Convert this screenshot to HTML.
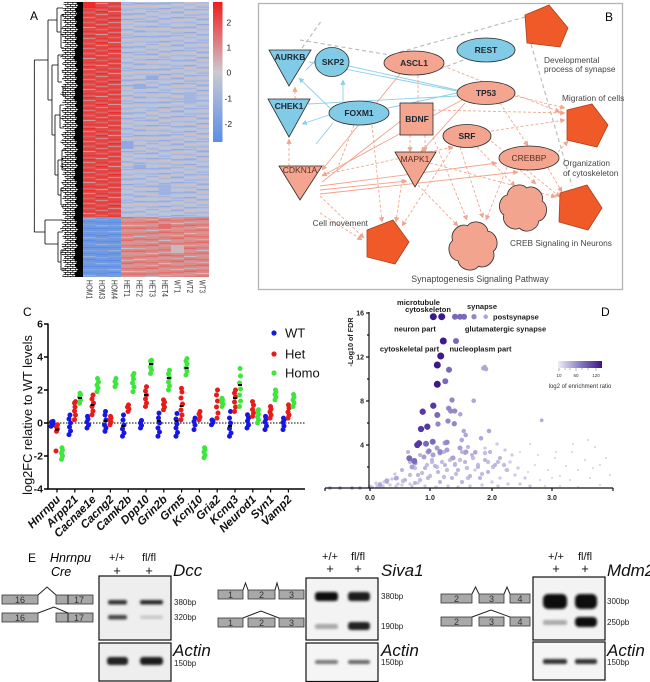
<!DOCTYPE html>
<html><head><meta charset="utf-8">
<style>
html,body{margin:0;padding:0;background:#fff;}
svg{display:block;font-family:"Liberation Sans",Arial,sans-serif;}
</style></head>
<body>
<svg width="650" height="682" viewBox="0 0 650 682" xmlns="http://www.w3.org/2000/svg">
<defs>
 <linearGradient id="cb" x1="0" y1="0" x2="0" y2="1">
  <stop offset="0" stop-color="#f21c1c"/>
  <stop offset="0.5" stop-color="#cbc9cf"/>
  <stop offset="1" stop-color="#5a8fe6"/>
 </linearGradient>
 <linearGradient id="pg" x1="0" y1="0" x2="1" y2="0">
  <stop offset="0" stop-color="#efedf7"/>
  <stop offset="0.5" stop-color="#8b7cc4"/>
  <stop offset="1" stop-color="#3c1484"/>
 </linearGradient>
 <marker id="ms" viewBox="0 0 10 10" refX="9" refY="5" markerWidth="6" markerHeight="6" orient="auto"><path d="M0,0L10,5L0,10z" fill="#f0a68e"/></marker>
 <marker id="mb" viewBox="0 0 10 10" refX="9" refY="5" markerWidth="6" markerHeight="6" orient="auto"><path d="M0,0L10,5L0,10z" fill="#8ccfe6"/></marker>
 <filter id="bl" x="-50%" y="-150%" width="200%" height="400%"><feGaussianBlur stdDeviation="1.2"/></filter>
 <pattern id="dn" patternUnits="userSpaceOnUse" width="5" height="4">
  <rect width="5" height="0.7" fill="#000"/><rect y="2" width="5" height="0.7" fill="#000"/>
  <rect x="0" width="0.7" height="2.7" fill="#000"/><rect x="2.5" y="2" width="0.7" height="2.7" fill="#000"/>
 </pattern>
 <pattern id="pR" patternUnits="userSpaceOnUse" width="13" height="31">
  <rect width="13" height="31" fill="#e04e4e"/>
  <rect y="0" width="13" height="1.3" fill="#ea3636"/>
  <rect y="2.5" width="13" height="1" fill="#d47272"/>
  <rect y="4" width="13" height="1.5" fill="#ee2e2e"/>
  <rect y="7" width="13" height="1" fill="#c98c8c"/>
  <rect y="9" width="13" height="2" fill="#e64242"/>
  <rect y="12" width="13" height="1" fill="#d86464"/>
  <rect y="14.5" width="13" height="1.2" fill="#f03030"/>
  <rect y="17" width="13" height="1" fill="#cc8080"/>
  <rect y="19" width="13" height="1.5" fill="#e83a3a"/>
  <rect y="22" width="13" height="1" fill="#d46c6c"/>
  <rect y="24.5" width="13" height="1.3" fill="#ee3434"/>
  <rect y="27" width="13" height="1" fill="#c89a9a"/>
  <rect y="29" width="13" height="1.2" fill="#e24646"/>
 </pattern>
 <pattern id="pG" patternUnits="userSpaceOnUse" width="13" height="33">
  <rect width="13" height="33" fill="#b6c1db"/>
  <rect y="0" width="13" height="1.2" fill="#9fb3e2"/>
  <rect y="2" width="13" height="1.3" fill="#cbc2ca"/>
  <rect y="5" width="13" height="1.5" fill="#a5b7e1"/>
  <rect y="7.5" width="13" height="1" fill="#d3bfc3"/>
  <rect y="9.5" width="13" height="1.8" fill="#98aee3"/>
  <rect y="12.5" width="13" height="1" fill="#c6c6d0"/>
  <rect y="15" width="13" height="1.3" fill="#93aae0"/>
  <rect y="17.5" width="13" height="1.3" fill="#d5bbbd"/>
  <rect y="20" width="13" height="1.2" fill="#a9bae0"/>
  <rect y="22.5" width="13" height="1" fill="#c5c7d3"/>
  <rect y="25" width="13" height="1.5" fill="#9ab0e3"/>
  <rect y="28" width="13" height="1" fill="#cfc0c6"/>
  <rect y="30.5" width="13" height="1.4" fill="#a3b6e1"/>
 </pattern>
 <pattern id="pB" patternUnits="userSpaceOnUse" width="13" height="19">
  <rect width="13" height="19" fill="#6e99e2"/>
  <rect y="0" width="13" height="1" fill="#5c8de6"/>
  <rect y="3" width="13" height="1.2" fill="#86a6dc"/>
  <rect y="6" width="13" height="1" fill="#6090e6"/>
  <rect y="9" width="13" height="1.3" fill="#96aed8"/>
  <rect y="12" width="13" height="1" fill="#5a8ce8"/>
  <rect y="15" width="13" height="1.2" fill="#7ea1de"/>
 </pattern>
 <pattern id="pP" patternUnits="userSpaceOnUse" width="13" height="23">
  <rect width="13" height="23" fill="#d98d8b"/>
  <rect y="0" width="13" height="1.4" fill="#e57070"/>
  <rect y="3" width="13" height="1" fill="#c9aeb2"/>
  <rect y="5.5" width="13" height="1.5" fill="#e86868"/>
  <rect y="8.5" width="13" height="1" fill="#cfa0a0"/>
  <rect y="11" width="13" height="1.5" fill="#e27878"/>
  <rect y="14" width="13" height="1" fill="#bfbfcc"/>
  <rect y="16.5" width="13" height="1.4" fill="#e66c6c"/>
  <rect y="19.5" width="13" height="1" fill="#d4a0a0"/>
 </pattern>
 <path id="flw" d="M21,0C26.57,7.12 19.44,19.44 10.5,18.19C7.12,26.57 -7.12,26.57 -10.5,18.19C-19.44,19.44 -26.57,7.12 -21,0C-26.57,-7.12 -19.44,-19.44 -10.5,-18.19C-7.12,-26.57 7.12,-26.57 10.5,-18.19C19.44,-19.44 26.57,-7.12 21,0Z"/>
</defs>
<rect width="650" height="682" fill="#fff"/>

<!-- ============ PANEL A ============ -->
<text x="30" y="20" font-size="12">A</text>
<g shape-rendering="crispEdges">
<g transform="translate(83,0)"><rect y="2" width="12.7" height="215" fill="url(#pR)"/></g>
<g transform="translate(95.6,7)"><rect y="-5" width="12.7" height="215" fill="url(#pR)"/></g>
<g transform="translate(108.2,15)"><rect y="-13" width="12.7" height="215" fill="url(#pR)"/></g>
<g transform="translate(120.8,4)"><rect y="-2" width="12.7" height="215" fill="url(#pG)"/></g>
<g transform="translate(133.4,21)"><rect y="-19" width="12.7" height="215" fill="url(#pG)"/></g>
<g transform="translate(146,11)"><rect y="-9" width="12.7" height="215" fill="url(#pG)"/></g>
<g transform="translate(158.6,26)"><rect y="-24" width="12.7" height="215" fill="url(#pG)"/></g>
<g transform="translate(171.2,2)"><rect y="0" width="12.7" height="215" fill="url(#pG)"/></g>
<g transform="translate(183.8,17)"><rect y="-15" width="12.7" height="215" fill="url(#pG)"/></g>
<g transform="translate(196.4,9)"><rect y="-7" width="12.6" height="215" fill="url(#pG)"/></g>
<g transform="translate(83,0)"><rect y="217" width="12.7" height="60" fill="url(#pB)"/></g>
<g transform="translate(95.6,7)"><rect y="210" width="12.7" height="60" fill="url(#pB)"/></g>
<g transform="translate(108.2,13)"><rect y="204" width="12.7" height="60" fill="url(#pB)"/></g>
<g transform="translate(120.8,4)"><rect y="213" width="12.7" height="60" fill="url(#pP)"/></g>
<g transform="translate(133.4,15)"><rect y="202" width="12.7" height="60" fill="url(#pP)"/></g>
<g transform="translate(146,9)"><rect y="208" width="12.7" height="60" fill="url(#pP)"/></g>
<g transform="translate(158.6,19)"><rect y="198" width="12.7" height="60" fill="url(#pP)"/></g>
<g transform="translate(171.2,2)"><rect y="215" width="12.7" height="60" fill="url(#pP)"/></g>
<g transform="translate(183.8,12)"><rect y="205" width="12.7" height="60" fill="url(#pP)"/></g>
<g transform="translate(196.4,6)"><rect y="211" width="12.6" height="60" fill="url(#pP)"/></g>
<rect x="83" y="2" width="12.6" height="6" fill="#ef2a2a"/>
<rect x="120.8" y="141" width="12.6" height="8" fill="#8fa9e0"/>
<rect x="133.4" y="84" width="12.6" height="5" fill="#95aee0"/>
<rect x="183.8" y="93" width="12.6" height="10" fill="#a3b6e2"/>
<rect x="158.6" y="185" width="12.6" height="10" fill="#9fb3e2"/>
<rect x="133.4" y="165" width="12.6" height="3" fill="#98ade0"/>
<rect x="146" y="76" width="12.6" height="4" fill="#93abe2"/>
<rect x="171.2" y="245" width="12.6" height="8" fill="#c9b8bc"/>
<rect x="158.6" y="224" width="12.6" height="5" fill="#e06c6c"/>
</g>
<!-- dendrogram -->
<polygon fill="url(#dn)" points="78,2 64,2 63,4 66,6 62,9 65,12 61,15 64,18 62,21 66,24 61,28 64,31 60,35 65,38 62,42 66,45 61,49 64,53 60,57 65,60 62,64 66,67 61,71 64,75 62,79 66,82 61,86 64,90 60,94 65,98 62,102 66,106 61,110 64,114 60,118 65,122 62,126 66,130 61,134 64,138 60,142 65,146 62,150 66,154 61,158 64,162 60,166 65,170 62,174 66,178 61,182 64,186 60,190 65,194 62,198 66,202 61,206 64,210 62,214 66,217 61,221 64,225 60,229 65,233 62,237 66,241 61,245 64,249 60,253 65,257 62,261 66,265 61,269 64,273 62,277 78,277"/>
<polygon fill="#000" points="83,2 76,2 78,6 75,10 77,14 74,18 77,22 75,26 78,30 74,34 77,38 75,42 78,46 74,50 76,54 73,58 77,62 75,66 78,70 74,74 77,78 75,82 78,86 74,90 76,94 73,98 77,102 75,106 78,110 74,114 77,118 75,122 78,126 74,130 76,134 73,138 77,142 75,146 78,150 74,154 77,158 75,162 78,166 74,170 76,174 73,178 77,182 75,186 78,190 74,194 77,198 75,202 78,206 74,210 76,214 73,218 77,222 75,226 78,230 74,234 77,238 75,242 78,246 74,250 76,254 73,258 77,262 75,266 78,270 74,274 76,277 83,277"/>
<path fill="none" stroke="#000" stroke-width="0.8" d="M34.3,60V232M34.3,60H48M34.3,232H45M48,20V100M48,20H57M48,100H52M57,8V32M57,8H63M57,32H61M52,65V135M52,65H58M52,135H55M58,55V82M58,55H63M58,82H62M55,115V175M55,115H60M55,175H58M60,105V128M60,105H64M60,128H64M58,160V195M58,160H62M58,195H61M62,150V170M62,150H65M62,170H65M61,188V205M61,188H64M61,205H64M45,220V244M45,220H62M45,244H58M58,232V262M58,232H63M58,262H61M61,250V270M61,250H65M61,270H65M61,15V48M61,15H64M61,48H64M63,88V96M63,88H66M63,96H66"/>
<rect x="213" y="2" width="9.5" height="140" fill="url(#cb)"/>
<g font-size="8.5" fill="#222">
<text x="226.5" y="25.5">2</text>
<text x="226.5" y="50.5">1</text>
<text x="226.5" y="75.5">0</text>
<text x="224.5" y="101.5">-1</text>
<text x="224.5" y="127">-2</text>
</g>
<g font-size="8.5" fill="#333">
<text transform="translate(86.3,280) rotate(90)" textLength="19" lengthAdjust="spacingAndGlyphs">HOM1</text>
<text transform="translate(98.9,280) rotate(90)" textLength="19" lengthAdjust="spacingAndGlyphs">HOM3</text>
<text transform="translate(111.5,280) rotate(90)" textLength="19" lengthAdjust="spacingAndGlyphs">HOM4</text>
<text transform="translate(124.1,280) rotate(90)" textLength="17" lengthAdjust="spacingAndGlyphs">HET1</text>
<text transform="translate(136.7,280) rotate(90)" textLength="17" lengthAdjust="spacingAndGlyphs">HET2</text>
<text transform="translate(149.3,280) rotate(90)" textLength="17" lengthAdjust="spacingAndGlyphs">HET3</text>
<text transform="translate(161.9,280) rotate(90)" textLength="17" lengthAdjust="spacingAndGlyphs">HET4</text>
<text transform="translate(174.5,280) rotate(90)" textLength="13" lengthAdjust="spacingAndGlyphs">WT1</text>
<text transform="translate(187.1,280) rotate(90)" textLength="13" lengthAdjust="spacingAndGlyphs">WT2</text>
<text transform="translate(199.7,280) rotate(90)" textLength="13" lengthAdjust="spacingAndGlyphs">WT3</text>
</g>

<!-- ============ PANEL B ============ -->
<rect x="258.5" y="3.5" width="364" height="286" fill="#fff" stroke="#b4b4b4" stroke-width="1.3"/>
<text x="605" y="21" font-size="12">B</text>
<g fill="none" stroke="#bdbdbd" stroke-width="1.2" stroke-dasharray="4,3">
<line x1="300" y1="40" x2="390" y2="55"/>
<line x1="400" y1="52" x2="525" y2="17"/>
<line x1="531" y1="44" x2="572" y2="186"/>
<line x1="440" y1="69" x2="466" y2="59"/>
<line x1="302" y1="48" x2="322" y2="20"/>
</g>
<g fill="none" stroke="#8fd0e8" stroke-width="0.9">
<line x1="349" y1="66" x2="457" y2="90"/>
<line x1="388" y1="108" x2="457" y2="93"/>
<line x1="309" y1="62" x2="457" y2="91"/>
<line x1="308" y1="104" x2="457" y2="96"/>
<line x1="343" y1="101" x2="343" y2="80" marker-end="url(#mb)"/>
<line x1="330" y1="108" x2="299" y2="78" marker-end="url(#mb)"/>
<line x1="329" y1="115" x2="302" y2="124" marker-end="url(#mb)"/>
<line x1="333" y1="123" x2="316" y2="144"/>
<line x1="318" y1="58" x2="306" y2="70"/>
</g>
<g fill="none" stroke="#f2a38c" stroke-width="0.9">
<line x1="400" y1="74" x2="322" y2="170" marker-end="url(#ms)"/>
<line x1="465" y1="103" x2="421" y2="152" marker-end="url(#ms)"/>
<line x1="462" y1="100" x2="322" y2="176" marker-end="url(#ms)"/>
<line x1="320" y1="186" x2="497" y2="163" marker-end="url(#ms)"/>
<line x1="320" y1="190" x2="407" y2="181" marker-end="url(#ms)"/>
<line x1="320" y1="194" x2="518" y2="172" marker-end="url(#ms)"/>
<line x1="402" y1="120" x2="322" y2="182"/>
</g>
<g fill="none" stroke="#f2a890" stroke-width="0.9" stroke-dasharray="3,2">
<line x1="443" y1="66" x2="560" y2="112" marker-end="url(#ms)"/>
<line x1="433" y1="110" x2="565" y2="113" marker-end="url(#ms)"/>
<line x1="515" y1="96" x2="565" y2="108" marker-end="url(#ms)"/>
<line x1="491" y1="131" x2="565" y2="120" marker-end="url(#ms)"/>
<line x1="558" y1="152" x2="568" y2="141" marker-end="url(#ms)"/>
<line x1="500" y1="103" x2="528" y2="146" marker-end="url(#ms)"/>
<line x1="418" y1="75" x2="418" y2="103"/>
<line x1="410" y1="135" x2="410" y2="152" marker-end="url(#ms)"/>
<line x1="425" y1="135" x2="425" y2="152" marker-end="url(#ms)"/>
<line x1="418" y1="185" x2="458" y2="226" marker-end="url(#ms)"/>
<line x1="433" y1="137" x2="467" y2="220" marker-end="url(#ms)"/>
<line x1="460" y1="147" x2="483" y2="218" marker-end="url(#ms)"/>
<line x1="520" y1="170" x2="536" y2="184" marker-end="url(#ms)"/>
<line x1="548" y1="168" x2="562" y2="192" marker-end="url(#ms)"/>
<line x1="491" y1="141" x2="560" y2="197" marker-end="url(#ms)"/>
<line x1="402" y1="180" x2="396" y2="222" marker-end="url(#ms)"/>
<line x1="453" y1="147" x2="402" y2="226" marker-end="url(#ms)"/>
<line x1="320" y1="196" x2="364" y2="238" marker-end="url(#ms)"/>
<line x1="372" y1="125" x2="382" y2="222" marker-end="url(#ms)"/>
<line x1="289" y1="166" x2="289" y2="139" marker-end="url(#ms)"/>
<line x1="295" y1="99" x2="295" y2="87" marker-end="url(#ms)"/>
<line x1="322" y1="175" x2="453" y2="147" marker-end="url(#ms)"/>
<line x1="477" y1="147" x2="515" y2="186" marker-end="url(#ms)"/>
<line x1="507" y1="167" x2="486" y2="220" marker-end="url(#ms)"/>
<line x1="320" y1="213" x2="362" y2="240" marker-end="url(#ms)"/>
<line x1="430" y1="163" x2="556" y2="197" marker-end="url(#ms)"/>
<line x1="354" y1="125" x2="337" y2="170"/>
</g>
<g stroke="#2a2a2a" stroke-width="0.8">
<polygon points="525,15 549,5 568,28 560,47 527,43" fill="#f05a28" stroke="#a8401a"/>
<polygon points="567,110 592,104 608,125 597,147 567,140" fill="#f05a28" stroke="#a8401a"/>
<polygon points="560,193 587,185 602,208 588,230 559,222" fill="#f05a28" stroke="#a8401a"/>
<polygon points="367,230 393,220 409,242 395,264 367,257" fill="#f05a28" stroke="#a8401a"/>
<use href="#flw" transform="translate(523,208) rotate(40) scale(0.97)" fill="#f2a48e" stroke-width="0.8"/>
<use href="#flw" transform="translate(473,246) rotate(15)" fill="#f2a48e" stroke-width="0.8"/>
<ellipse cx="486" cy="50" rx="29" ry="12" fill="#82cbe6"/>
<ellipse cx="332" cy="62" rx="17" ry="14.5" fill="#82cbe6"/>
<ellipse cx="414" cy="63" rx="30" ry="12" fill="#f3a58f"/>
<ellipse cx="486" cy="93" rx="29" ry="11.5" fill="#f3a58f"/>
<ellipse cx="359" cy="113" rx="30" ry="12" fill="#82cbe6"/>
<rect x="400" y="103" width="33" height="32" fill="#f3a58f"/>
<ellipse cx="467" cy="136" rx="24" ry="11.5" fill="#f3a58f"/>
<ellipse cx="529" cy="158" rx="30" ry="12" fill="#f3a58f"/>
<polygon points="395,152 436,152 415,187" fill="#f3a58f"/>
<polygon points="269,50 311,50 289,86" fill="#82cbe6"/>
<polygon points="268,99 310,99 289,137" fill="#82cbe6"/>
<polygon points="279,166 322,166 300,200" fill="#f3a58f"/>
</g>
<g font-size="8.5" font-weight="bold" fill="#1d2630" text-anchor="middle">
<text x="486" y="53">REST</text>
<text x="333" y="65">SKP2</text>
<text x="414" y="66">ASCL1</text>
<text x="486" y="96">TP53</text>
<text x="359" y="116">FOXM1</text>
<text x="417" y="122">BDNF</text>
<text x="467" y="139">SRF</text>
<text x="290" y="60">AURKB</text>
<text x="289" y="109">CHEK1</text>
</g>
<g font-size="8.5" fill="#5a3024" text-anchor="middle">
<text x="529" y="161">CREBBP</text>
<text x="415" y="162">MAPK1</text>
<text x="300" y="173">CDKN1A</text>
</g>
<g font-size="8.3" fill="#444">
<text x="544" y="63">Developmental</text>
<text x="544" y="72">process of synapse</text>
<text x="562" y="101">Migration of cells</text>
<text x="563" y="166">Organization</text>
<text x="563" y="176">of cytoskeleton</text>
<text x="368" y="226" text-anchor="end">Cell movement</text>
<text x="510" y="246">CREB Signaling in Neurons</text>
<text x="480" y="282" text-anchor="middle" font-size="8.8">Synaptogenesis Signaling Pathway</text>
</g>

<!-- ============ PANEL C ============ -->
<text x="23" y="316" font-size="12">C</text>
<g stroke="#000" stroke-width="1.5" fill="none">
<line x1="48" y1="323.5" x2="48" y2="489"/>
<line x1="47.3" y1="489" x2="305" y2="489"/>
<line x1="44" y1="324" x2="48" y2="324"/>
<line x1="44" y1="357" x2="48" y2="357"/>
<line x1="44" y1="390" x2="48" y2="390"/>
<line x1="44" y1="423" x2="48" y2="423"/>
<line x1="44" y1="456" x2="48" y2="456"/>
<line x1="44" y1="489" x2="48" y2="489"/>
</g>
<path stroke="#000" stroke-width="1.2" d="M57,489v3.5M74.8,489v3.5M92.6,489v3.5M110.4,489v3.5M128.2,489v3.5M146,489v3.5M163.8,489v3.5M181.6,489v3.5M199.4,489v3.5M217.2,489v3.5M235,489v3.5M252.8,489v3.5M270.6,489v3.5M288.4,489v3.5"/>
<line x1="48" y1="423" x2="305" y2="423" stroke="#000" stroke-width="1" stroke-dasharray="1.5,1.5"/>
<g font-size="10.5" font-weight="bold" text-anchor="end" fill="#111">
<text x="43" y="327.5">6</text>
<text x="43" y="360.5">4</text>
<text x="43" y="393.5">2</text>
<text x="43" y="426.5">0</text>
<text x="43" y="459.5">-2</text>
<text x="43" y="492.5">-4</text>
</g>
<text transform="translate(32,415) rotate(-90)" font-size="12.8" text-anchor="middle" fill="#111">log2FC relative to WT levels</text>
<g fill="none" stroke-linecap="round" stroke-width="5">
<path stroke="#1717e0" d="M51 426.3h.01M53 425h.01M52 423.5h.01M51.5 422h.01M53 421.4h.01M69 434.6h.01M70.5 431h.01M69.5 427h.01M70.5 423h.01M69 419h.01M70 415h.01M87 428h.01M88.5 425h.01M87 422h.01M88 419h.01M87.5 416.4h.01M105 431.3h.01M106 428h.01M104.5 425h.01M106 420h.01M105 415h.01M105.5 411.5h.01M122.5 436.2h.01M124 433h.01M122.5 429h.01M124 425h.01M123 420h.01M123.5 415h.01M140.5 428h.01M141.5 425.5h.01M140.5 423h.01M141.5 420.5h.01M158 436.2h.01M159.5 432h.01M158 428h.01M159.5 423h.01M158.5 418h.01M159 413.1h.01M176 436.2h.01M177.5 432.5h.01M176 428h.01M177 424h.01M176 419h.01M177 413.5h.01M194 429.6h.01M195 425h.01M194 421.5h.01M195 418.1h.01M211.5 424.7h.01M213 422.5h.01M212 420h.01M213 421h.01M229.5 436.2h.01M231 433h.01M229.5 428.5h.01M230.5 423h.01M229.5 418h.01M230.5 411.5h.01M247 428h.01M248.5 425h.01M247.5 421h.01M248.5 418h.01M247.5 414.8h.01M265 429.6h.01M266.5 426h.01M265 422h.01M266 419h.01M265.5 416.4h.01M283 429.6h.01M284 426h.01M283 422.5h.01M284 420h.01M283.5 418.1h.01"/>
<path stroke="#e61c1c" d="M56.5 431.3h.01M57.5 429h.01M56.5 427h.01M57.5 424.7h.01M56 451h.01M74.5 419.7h.01M75.5 415h.01M74.5 411h.01M75 407h.01M74.5 403h.01M75.5 401.6h.01M92 414.8h.01M93 411h.01M92 406.5h.01M93.5 403h.01M92 399h.01M93 395h.01M110 424.7h.01M111 422h.01M110 420h.01M111 418h.01M110.5 416.4h.01M128 411.5h.01M129 409h.01M127.5 407h.01M128.5 404.9h.01M145.5 406.5h.01M146.5 403h.01M145.5 399h.01M146.5 395h.01M145.5 391h.01M146.5 386.7h.01M163.5 409.8h.01M164.5 407h.01M163.5 404.5h.01M164.5 402h.01M163.5 399.9h.01M181 419.7h.01M182 415h.01M181 410h.01M182.5 404h.01M181 398h.01M182 392h.01M181.5 388.4h.01M199 419.7h.01M200 417h.01M199 414h.01M200 411.5h.01M217 418.1h.01M218 413h.01M216.5 407h.01M217.5 401h.01M216.5 395h.01M217.5 390h.01M234.5 411.5h.01M235.5 407h.01M234.5 402h.01M235.5 397h.01M234.5 393h.01M235.5 390h.01M252.5 416.4h.01M253.5 413h.01M252.5 409.5h.01M253.5 405h.01M252.5 401.6h.01M270 418.1h.01M271 415h.01M270 412h.01M271 409h.01M270.5 406.5h.01M288 418.1h.01M289 415h.01M288 412h.01M289 408h.01M288.5 404.9h.01"/>
<path stroke="#3ce63c" d="M61.5 459.3h.01M62.5 456h.01M61.5 453h.01M62.5 450h.01M62 447.8h.01M79.5 403.2h.01M80.5 400h.01M79.5 397h.01M80.5 394.5h.01M80 393.3h.01M97 391.6h.01M98 388h.01M97 385h.01M98.5 382h.01M97.5 378.5h.01M115 386.7h.01M116 384h.01M115 381.5h.01M116 378.5h.01M133 391.6h.01M134 387h.01M132.5 383h.01M133.5 379h.01M133 375.5h.01M134 373.5h.01M150.5 373.5h.01M151.5 370h.01M150.5 367h.01M151.5 364h.01M150.5 361h.01M151.5 360.3h.01M168.5 390h.01M169.5 386h.01M168.5 382h.01M169.5 378h.01M168.5 374h.01M169.5 370.2h.01M186 375h.01M187 371h.01M186 368h.01M187 364h.01M186 361h.01M187 358.6h.01M204 457.7h.01M205 455h.01M204 452h.01M205 449.5h.01M204.5 447.8h.01M222 406.5h.01M223 404h.01M221.5 402h.01M222.5 400h.01M222 398.3h.01M239.5 406.5h.01M240.5 401h.01M239.5 395h.01M240.5 389h.01M239.5 383h.01M240.5 376h.01M240 368.5h.01M257.5 423h.01M258.5 420h.01M257.5 417h.01M258.5 414h.01M257.5 411h.01M258.5 409.8h.01M275 399.9h.01M276 397h.01M275 394.5h.01M276 392h.01M275.5 390h.01M293 406.5h.01M294 403h.01M293 400h.01M294 397h.01M293.5 394.5h.01"/>
</g>
<path stroke="#000" stroke-width="2" fill="none" d="M55 429.6h4M78 398h4M90.6 405h4M103.4 421h4M121.2 426h4M144 395h4M149 364h4M156.8 421h4M166.8 378h4M174.6 421h4M179.6 406h4M184.6 368h4M228 426h4M238 385h4M233 398h4"/>
<circle cx="274" cy="333" r="2.6" fill="#1717e0"/>
<circle cx="274" cy="354" r="2.6" fill="#e61c1c"/>
<circle cx="274" cy="373" r="2.6" fill="#3ce63c"/>
<g font-size="13" fill="#111">
<text x="285" y="337.5">WT</text>
<text x="285" y="358.5">Het</text>
<text x="285" y="377.5">Homo</text>
</g>
<g font-size="11.5" font-weight="bold" font-style="italic" text-anchor="end" fill="#111">
<text transform="translate(61,500) rotate(-45)">Hnrnpu</text>
<text transform="translate(78.8,500) rotate(-45)">Arpp21</text>
<text transform="translate(96.6,500) rotate(-45)">Cacnae1e</text>
<text transform="translate(114.4,500) rotate(-45)">Cacng2</text>
<text transform="translate(132.2,500) rotate(-45)">Camk2b</text>
<text transform="translate(150,500) rotate(-45)">Dpp10</text>
<text transform="translate(167.8,500) rotate(-45)">Grin2b</text>
<text transform="translate(185.6,500) rotate(-45)">Grm5</text>
<text transform="translate(203.4,500) rotate(-45)">Kcnj10</text>
<text transform="translate(221.2,500) rotate(-45)">Gria2</text>
<text transform="translate(239,500) rotate(-45)">Kcnq3</text>
<text transform="translate(256.8,500) rotate(-45)">Neurod1</text>
<text transform="translate(274.6,500) rotate(-45)">Syn1</text>
<text transform="translate(292.4,500) rotate(-45)">Vamp2</text>
</g>

<!-- ============ PANEL D ============ -->
<text x="601" y="316" font-size="12">D</text>
<g fill="none" stroke-linecap="round">
<path stroke="#dad6ec" stroke-width="2.2" d="M528 472h.01M535 465h.01M540 480h.01M548 470h.01M555 458h.01M560 476h.01M566 466h.01M572 452h.01M578 470h.01M585 460h.01M590 478h.01M595 447h.01M600 465h.01M606 458h.01M578 487h.01M560 486h.01M545 486h.01M610 475h.01M588 440h.01M573 444h.01M556 452h.01M538 455h.01M530 444h.01M520 452h.01M600 485h.01M593 468h.01M570 480h.01M552 478h.01"/>
<path stroke="#cfc9e6" stroke-width="3.3" d="M380 484h.01M388 480h.01M395 474h.01M398 484h.01M412 486h.01M425 486h.01M436 487h.01M448 486h.01M458 487h.01M470 486h.01M482 485h.01M492 482h.01M500 478h.01M506 470h.01M510 462h.01M515 475h.01M498 486h.01M508 484h.01M520 484h.01M475 470h.01M485 448h.01M497 444h.01M505 450h.01M512 455h.01M518 468h.01M525 478h.01M530 486h.01M372 487h.01M377 486h.01M383 486h.01M390 485h.01M396 486h.01M402 485h.01M410 484h.01M418 483h.01M384 482h.01M392 479h.01M376 483h.01"/>
<path stroke="#c6bee2" stroke-width="4.4" d="M410 475h.01M415 468h.01M422 473h.01M427 465h.01M432 462h.01M437 467h.01M442 462h.01M447 470h.01M450 460h.01M455 465h.01M460 460h.01M465 453h.01M467 468h.01M473 458h.01M478 465h.01M485 453h.01M488 462h.01M493 467h.01M498 462h.01M504 465h.01M507 470h.01M370 487h.01M380 484h.01M387 482h.01M397 478h.01M403 481h.01M420 480h.01M430 476h.01M444 477h.01M456 474h.01M468 478h.01M482 474h.01"/>
<path stroke="#bdb4dd" stroke-width="4" d="M402 470h.01M410 462h.01M418 475h.01M425 468h.01M432 460h.01M438 472h.01M445 465h.01M452 458h.01M458 470h.01M465 462h.01M472 455h.01M478 467h.01M485 460h.01M490 452h.01M405 480h.01M415 483h.01M428 478h.01M440 482h.01M452 478h.01M462 482h.01M470 476h.01M480 478h.01M488 472h.01M495 465h.01M500 458h.01M420 455h.01M444 452h.01M468 447h.01M408 452h.01M435 466h.01M455 464h.01M462 452h.01"/>
<path stroke="#a89fd2" stroke-width="5" d="M412 467h.01M415 463h.01M424 457h.01M428 452h.01M433 455h.01M437 448h.01M440 453h.01M445 443h.01M447 450h.01M453 458h.01M460 448h.01M466 452h.01"/>
<path stroke="#b0a8d6" stroke-width="3.6" d="M330 488h.01M340 488h.01M352 488h.01M360 488h.01M541.7 420.3h.01"/>
<path stroke="#b1a7d7" stroke-width="4.6" d="M485.7 316.7h.01M483.3 368.3h.01M486 369h.01M484.7 367h.01M473.7 400.7h.01M460.3 414.3h.01M463.7 431h.01M465.7 435h.01M481 438.3h.01M461.7 440h.01M475.3 452.3h.01M489 431h.01M396 478.3h.01M386.7 480.7h.01M380 485h.01"/>
<path stroke="#9587c7" stroke-width="5.3" d="M474 316.7h.01M452 400h.01M448.7 408.3h.01M450.7 411h.01M454.7 411h.01M438 424h.01M448 421h.01M454.3 423.7h.01M447 442.3h.01M429 451h.01M440 451.7h.01"/>
<path stroke="#7a68b8" stroke-width="6" d="M455 316.7h.01M460 316.7h.01M464 316.7h.01M456 341h.01M449 369.7h.01M445.3 381.3h.01M426 443.7h.01M432.7 441.7h.01M409.3 458.3h.01M414.3 461h.01M437.3 415h.01"/>
<path stroke="#5538a0" stroke-width="6.3" d="M433.3 405.7h.01M422.7 411.7h.01M421 429h.01M427.3 426.7h.01M419 443.3h.01M417.3 445h.01"/>
<path stroke="#3d1a88" stroke-width="7" d="M433.3 316.7h.01M441.7 316.7h.01M443.3 341h.01M440.7 356h.01M437.3 365h.01M437.3 384.3h.01"/>
</g>
<g stroke="#111" stroke-width="1.2" fill="none">
<line x1="369" y1="312" x2="369" y2="488"/>
<line x1="325" y1="488" x2="613" y2="488"/>
<line x1="366" y1="313" x2="369" y2="313"/>
<line x1="367" y1="335" x2="369" y2="335"/>
<line x1="366" y1="357" x2="369" y2="357"/>
<line x1="367" y1="379" x2="369" y2="379"/>
<line x1="366" y1="401" x2="369" y2="401"/>
<line x1="367" y1="423" x2="369" y2="423"/>
<line x1="366" y1="445" x2="369" y2="445"/>
<line x1="367" y1="467" x2="369" y2="467"/>
<line x1="325" y1="488" x2="325" y2="491"/>
<line x1="370" y1="488" x2="370" y2="491"/>
<line x1="430" y1="488" x2="430" y2="491"/>
<line x1="492" y1="488" x2="492" y2="491"/>
<line x1="552" y1="488" x2="552" y2="491"/>
<line x1="613" y1="488" x2="613" y2="491"/>
</g>
<g font-size="7" font-weight="bold" fill="#222" text-anchor="end">
<text x="364" y="315.5">16</text>
<text x="364" y="359.5">12</text>
<text x="364" y="403.5">8</text>
<text x="364" y="447.5">4</text>
</g>
<g font-size="7" font-weight="bold" fill="#222" text-anchor="middle">
<text x="370" y="500">0.0</text>
<text x="430" y="500">1.0</text>
<text x="492" y="500">2.0</text>
<text x="552" y="500">3.0</text>
</g>
<text transform="translate(353,342) rotate(-90)" font-size="7.2" font-weight="bold" text-anchor="middle" fill="#222">-Log10 of FDR</text>
<g font-size="7.5" font-weight="bold" fill="#1a1a1a" text-anchor="middle">
<text x="418.5" y="305">microtubule</text>
<text x="428" y="312">cytoskeleton</text>
<text x="482" y="309">synapse</text>
<text x="493" y="319.5" text-anchor="start">postsynapse</text>
<text x="415" y="331.5">neuron part</text>
<text x="505.5" y="331.5">glutamatergic synapse</text>
<text x="409.5" y="351.5">cytoskeletal part</text>
<text x="480.5" y="351.5">nucleoplasm part</text>
</g>
<rect x="558" y="361" width="44" height="7" fill="url(#pg)"/>
<g stroke="#444" stroke-width="0.4">
<line x1="559" y1="368" x2="559" y2="371"/><line x1="565" y1="368" x2="565" y2="370"/>
<line x1="570" y1="368" x2="570" y2="370"/><line x1="576" y1="368" x2="576" y2="371"/>
<line x1="582" y1="368" x2="582" y2="370"/><line x1="588" y1="368" x2="588" y2="370"/>
<line x1="596" y1="368" x2="596" y2="371"/>
</g>
<g font-size="4.5" fill="#333" text-anchor="middle">
<text x="559" y="377">10</text><text x="576" y="377">60</text><text x="596" y="377">120</text>
</g>
<text x="580" y="388" font-size="6" fill="#333" text-anchor="middle">log2 of enrichment ratio</text>

<!-- ============ PANEL E ============ -->
<text x="28" y="562" font-size="12">E</text>
<text x="50" y="562" font-size="12.5" font-style="italic">Hnrnpu</text>
<text x="51" y="576" font-size="12.5" font-style="italic">Cre</text>
<g font-size="11" text-anchor="middle" fill="#111">
<text x="117" y="561">+/+</text><text x="149" y="561">fl/fl</text>
<text x="330" y="560">+/+</text><text x="358" y="560">fl/fl</text>
<text x="556" y="560">+/+</text><text x="585" y="560">fl/fl</text>
</g>
<g font-size="13" text-anchor="middle" fill="#111">
<text x="117" y="575">+</text><text x="149" y="575">+</text>
<text x="330" y="573">+</text><text x="358" y="573">+</text>
<text x="556" y="573">+</text><text x="585" y="573">+</text>
</g>
<g font-size="17" font-style="italic" fill="#111">
<text x="173" y="576">Dcc</text>
<text x="381" y="576">Siva1</text>
<text x="607" y="576">Mdm2</text>
<text x="173" y="656">Actin</text>
<text x="381" y="656">Actin</text>
<text x="607" y="656">Actin</text>
</g>
<g font-size="8" fill="#222">
<text x="174" y="605">380bp</text><text x="174" y="620">320bp</text><text x="174" y="666">150bp</text>
<text x="381" y="599">380bp</text><text x="381" y="629">190bp</text><text x="381" y="665">150bp</text>
<text x="607" y="604">300bp</text><text x="607" y="625">250pb</text><text x="607" y="665">150bp</text>
</g>
<g stroke="#111" stroke-width="1.2">
<rect x="99" y="576" width="72" height="64" fill="#eeeeee"/>
<rect x="99" y="643" width="72" height="38" fill="#eeeeee"/>
<rect x="306" y="578" width="72" height="62" fill="#f3f3f3"/>
<rect x="306" y="643" width="72" height="38.5" fill="#f5f5f5"/>
<rect x="533" y="577" width="72" height="63" fill="#f3f3f3"/>
<rect x="533" y="642" width="72" height="38" fill="#f5f5f5"/>
</g>
<g filter="url(#bl)">
<rect x="108" y="600" width="19" height="4.5" rx="2" fill="#333"/>
<rect x="140" y="600" width="23" height="4.5" rx="2" fill="#2a2a2a"/>
<rect x="108" y="615" width="19" height="4.5" rx="2" fill="#444"/>
<rect x="140" y="615.5" width="23" height="3.5" rx="2" fill="#c6c6c6"/>
<rect x="107" y="657" width="21" height="8" rx="3" fill="#222"/>
<rect x="140" y="657" width="23" height="8" rx="3" fill="#1a1a1a"/>
<rect x="315" y="592" width="23" height="9" rx="3" fill="#111"/>
<rect x="348" y="592" width="22" height="9" rx="3" fill="#1a1a1a"/>
<rect x="315" y="624" width="23" height="5" rx="2" fill="#a8a8a8"/>
<rect x="348" y="622" width="22" height="8" rx="3" fill="#222"/>
<rect x="315" y="660" width="23" height="4" rx="2" fill="#777"/>
<rect x="348" y="660" width="22" height="4" rx="2" fill="#666"/>
<rect x="543" y="594" width="24" height="15" rx="5" fill="#0a0a0a"/>
<rect x="575" y="594" width="22" height="15" rx="5" fill="#111"/>
<rect x="543" y="620" width="24" height="5" rx="2" fill="#aaa"/>
<rect x="575" y="617" width="22" height="10" rx="4" fill="#111"/>
<rect x="543" y="659" width="24" height="5" rx="2" fill="#333"/>
<rect x="575" y="659" width="22" height="5" rx="2" fill="#333"/>
</g>
<g fill="#a8a8a8" stroke="#333" stroke-width="0.8">
<rect x="2" y="595" width="36" height="9"/><rect x="56" y="595" width="37" height="9"/>
<rect x="2" y="613" width="36" height="9"/><rect x="56" y="613" width="37" height="9"/>
<rect x="218" y="590" width="25" height="9"/><rect x="248" y="590" width="27" height="9"/><rect x="279" y="590" width="25" height="9"/>
<rect x="218" y="618" width="25" height="9"/><rect x="248" y="618" width="27" height="9"/><rect x="279" y="618" width="25" height="9"/>
<rect x="441" y="594" width="31" height="9"/><rect x="479" y="594" width="25" height="9"/><rect x="510" y="594" width="20" height="9"/>
<rect x="441" y="617" width="31" height="9"/><rect x="479" y="617" width="25" height="9"/><rect x="510" y="617" width="20" height="9"/>
</g>
<g fill="none" stroke="#222" stroke-width="1">
<line x1="68" y1="595" x2="68" y2="604"/><line x1="68" y1="613" x2="68" y2="622"/>
<polyline points="38,595 47,587 56,595"/>
<polyline points="38,613 54,607 68,613"/>
<polyline points="243,590 245.5,583 248,590"/><polyline points="275,590 277,583 279,590"/>
<polyline points="243,618 261,611 279,618"/>
<polyline points="472,594 475.5,587 479,594"/><polyline points="504,594 507,587 510,594"/>
<polyline points="472,617 491,610 510,617"/>
</g>
<g font-size="9" fill="#333" text-anchor="middle">
<text x="20" y="603">16</text><text x="79" y="603">17</text>
<text x="20" y="621">16</text><text x="79" y="621">17</text>
<text x="230.5" y="598">1</text><text x="261.5" y="598">2</text><text x="291.5" y="598">3</text>
<text x="230.5" y="626">1</text><text x="261.5" y="626">2</text><text x="291.5" y="626">3</text>
<text x="456.5" y="602">2</text><text x="491.5" y="602">3</text><text x="520" y="602">4</text>
<text x="456.5" y="625">2</text><text x="491.5" y="625">3</text><text x="520" y="625">4</text>
</g>
</svg>
</body></html>
